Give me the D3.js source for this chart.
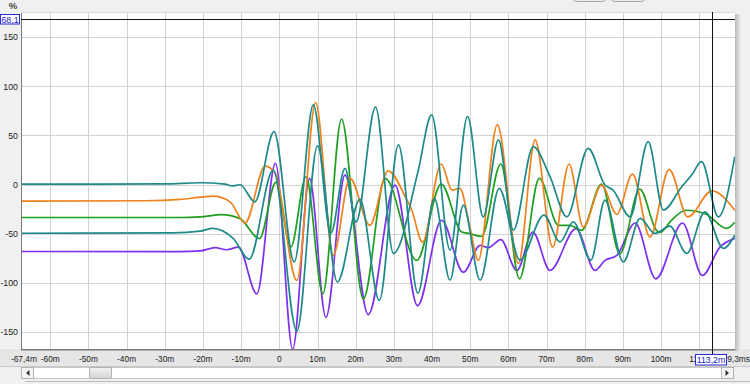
<!DOCTYPE html>
<html><head><meta charset="utf-8">
<script src="https://cdn.jsdelivr.net/npm/d3@7"></script>
<style>
body{margin:0;background:#f0f0f0;overflow:hidden;}
svg{display:block;font-family:"Liberation Sans",Arial,sans-serif;}
</style>
</head><body>
<svg id="chart" width="750" height="384"></svg>
<script>
// ---------- data ----------
const xTickValues = [-60,-50,-40,-30,-20,-10,0,10,20,30,40,50,60,70,80,90,100,110];
const xTickLabels = ["-60m","-50m","-40m","-30m","-20m","-10m","0","10m","20m","30m","40m","50m","60m","70m","80m","90m","100m","110m"];
const yTickValues = [150,100,50,0,-50,-100,-150];
const xStartLabel = "-67,4m";
const xEndLabel = "119,3ms";
const yUnit = "%";
const hCursorValue = 168.1, hCursorLabel = "68,1";
const vCursorValue = 113.2, vCursorLabel = "113,2m";

const tealATime = [-67.4,-30,-20.8,-14.2,-12.4,-10.3,-6.4,-1.4,3.9,8.9,13.5,17.2,20.1,25.2,29.9,36.3,39.9,44.7,49.3,53.4,57.4,61.3,66.5,70.9,75.3,80.9,85.3,87.4,91.9,96.6,100.6,105.4,108.0,110.6,115.0,119.3];
const tealAValue = [0.4,0.6,1.8,0.5,-1.5,-0.2,-17.6,53.9,-78.8,81.1,-49.5,16.5,-38.3,78.8,-70.2,12.8,70.9,-66.8,69.2,-32.9,45.4,-46.4,38.6,8.0,-32.9,36.9,-0.5,-5.6,-32.9,43.7,-26,-2.2,9.7,23.3,-32.9,28.4];

const tealBTime = [-67.4,-28,-20.8,-17.4,-12.1,-7.9,-1.6,4.6,10.0,15.2,21.1,26.2,31.2,36.3,40.6,44.7,48.2,52.6,57.6,63.0,69.3,73.5,77.0,81.6,85.3,90.1,94.5,98.4,102.3,106.7,111.5,116.3,119.3];
const tealBValue = [-49.6,-49.2,-47.5,-44.7,-54.9,-76,14.8,-149.2,39.3,-99.2,-15.1,-117.9,40.3,-110.7,-14.1,-97.4,-20.9,-97.4,-3.9,-77,-31.1,-58.4,-38,-77,-15.8,-78.8,-34.5,-49.8,-42.3,-70.2,-27.8,-65.1,-51.5];

const orangeTime = [-67.4,-35,-26,-20.8,-17.3,-12.9,-9.0,-3.7,-1.1,4.6,9.5,14.1,18.5,23.7,28.5,33.0,34.7,37.5,42.4,45.2,47.3,49.9,52.1,57.1,62.6,67.0,71.6,75.9,79.6,84.4,88.4,92.5,97.1,102.1,107.0,113.3,119.3];
const orangeValue = [-16.8,-16.5,-15.2,-12.9,-11.9,-17.7,-39.2,18.8,11.7,-97.7,83.5,-72.2,6.5,-41.5,14,-12.6,-26.2,-58.6,20.9,-5.7,-4,-43.3,-77.3,60.7,-80.4,45.4,-63.7,20.9,-43.3,-0.6,-30.3,10.6,-53.5,15.4,-33,-6.4,-26.2];

const greenTime = [-67.4,-26,-20.8,-15.1,-10.3,-5.2,-0.9,3.0,7.0,11.4,16.3,22.0,27.7,36.0,42.4,47.8,49.9,53.0,58.0,62.9,68.1,73.1,76.1,79.2,84.4,89.2,94.4,98.8,99.7,102.7,106.5,111.8,117.2,119.3];
const greenValue = [-33.6,-33.6,-33.0,-30.6,-34.7,-55.1,2.2,-63.7,7.9,-111.3,66.6,-116.5,6.2,-77.3,0.4,-48.4,-50,-52.8,20.9,-96,6.2,-41.5,-41.5,-46.6,0.4,-70.4,-4.7,-46.6,-48.7,-36.4,-26.2,-30.3,-44.6,-38.4];

const purpleTime = [-67.4,-26,-20.8,-16.8,-13.8,-10.7,-5.9,-1.0,3.5,7.9,12.2,17.2,23.3,30.3,36.2,42.5,48.2,52.6,54.7,58.0,62.2,66.4,70.9,77.7,82.7,85.3,88.4,93.2,98.6,105.6,110.8,115.4,119.3];
const purpleValue = [-68.2,-68.4,-67.6,-64.3,-66.4,-63.7,-111.3,21.6,-167.6,6.2,-135.3,9.6,-132.5,-0.6,-123.3,-36.4,-89.3,-62,-64.3,-56.1,-87.5,-48.4,-87.5,-44.9,-87.5,-77.3,-72.2,-39.2,-96,-39.2,-92.6,-63.7,-54.8];

const seriesNames = ["tealA","tealB","orange","green","purple"];
const seriesColors = ["#1f8a8a","#1f8a8a","#f0821e","#1f9e1f","#7f2ff0"];

// ---------- layout ----------
const svg = d3.select("#chart");
const L = 21, R = 735, T = 12, B = 349;
const x = d3.scaleLinear().domain([-67.4, 119.3]).range([22, 734.8]);
const y = d3.scaleLinear().domain([-167.8, 175.4]).range([349.3, 12.3]);

const defs = svg.append("defs");
defs.append("clipPath").attr("id","plotclip").append("rect")
  .attr("x",L).attr("y",T).attr("width",R-L).attr("height",B-T);
const sg = defs.append("linearGradient").attr("id","shadow").attr("x1",0).attr("x2",1);
sg.append("stop").attr("offset",0).attr("stop-color","#b8b8b8");
sg.append("stop").attr("offset",1).attr("stop-color","#f0f0f0");
const tg = defs.append("linearGradient").attr("id","thumb").attr("x1",0).attr("x2",0).attr("y1",0).attr("y2",1);
tg.append("stop").attr("offset",0).attr("stop-color","#f2f2f2");
tg.append("stop").attr("offset",1).attr("stop-color","#d4d4d4");

// top buttons (partial)
svg.append("rect").attr("x",573.5).attr("y",-6).attr("width",32).attr("height",7.5).attr("rx",3)
  .attr("fill","#ececec").attr("stroke","#a8a8a8");
svg.append("rect").attr("x",611.5).attr("y",-6).attr("width",33).attr("height",7.5).attr("rx",3)
  .attr("fill","#ececec").attr("stroke","#a8a8a8");

// x-axis band
svg.append("rect").attr("x",0).attr("y",B).attr("width",750).attr("height",17).attr("fill","#e6e6e6");
// shadow right of plot
svg.append("rect").attr("x",R).attr("y",T+2).attr("width",6).attr("height",B-T).attr("fill","url(#shadow)");

// plot background
svg.append("rect").attr("x",L).attr("y",T).attr("width",R-L).attr("height",B-T).attr("fill","#ffffff");

// gridlines
const grid = svg.append("g").attr("stroke","#d2d2d2").attr("stroke-width",1);
xTickValues.forEach(v => {
  const px = Math.round(x(v)) + 0.5;
  grid.append("line").attr("x1",px).attr("x2",px).attr("y1",T).attr("y2",B);
});
yTickValues.forEach(v => {
  const py = Math.round(y(v)) + 0.5;
  grid.append("line").attr("x1",L).attr("x2",R).attr("y1",py).attr("y2",py);
});

// plot border
svg.append("line").attr("x1",L+0.5).attr("x2",L+0.5).attr("y1",T).attr("y2",B+1).attr("stroke","#7a7a7a");
svg.append("line").attr("x1",L).attr("x2",R).attr("y1",B+0.5).attr("y2",B+0.5).attr("stroke","#7a7a7a");
svg.append("line").attr("x1",L).attr("x2",R).attr("y1",B+1.5).attr("y2",B+1.5).attr("stroke","#b0b0b0");
svg.append("line").attr("x1",L).attr("x2",R).attr("y1",T+0.5).attr("y2",T+0.5).attr("stroke","#dcdcdc");

// series
const seriesData = [
  [tealATime, tealAValue],[tealBTime, tealBValue],[orangeTime, orangeValue],
  [greenTime, greenValue],[purpleTime, purpleValue]
];
const line = d3.line().x(d => x(d[0])).y(d => y(d[1])).curve(d3.curveMonotoneX);
const lines = svg.append("g").attr("clip-path","url(#plotclip)");
const drawOrder = [4,3,2,1,0];
drawOrder.forEach(i => {
  const [t, v] = seriesData[i];
  const pts = t.map((tt, k) => [tt, v[k]]);
  lines.append("path").attr("d", line(pts)).attr("fill","none")
    .attr("stroke", seriesColors[i]).attr("stroke-width",1.7)
    .attr("stroke-linejoin","round").attr("class", seriesNames[i]);
});

// cursors
const hy = Math.round(y(hCursorValue)) + 0.5;
svg.append("line").attr("x1",L).attr("x2",R).attr("y1",hy).attr("y2",hy).attr("stroke","#111");
const vx = Math.round(x(vCursorValue)) + 0.5;
svg.append("line").attr("x1",vx).attr("x2",vx).attr("y1",T).attr("y2",B + 6).attr("stroke","#111");

// y labels
const yl = svg.append("g").attr("font-size",8.8).attr("fill","#222").attr("text-anchor","end");
yTickValues.forEach(v => {
  yl.append("text").attr("x",18).attr("y", y(v) + 3.2).text(v);
});
svg.append("text").attr("x",13).attr("y",9).attr("font-size",9.5).attr("font-weight","bold")
  .attr("fill","#444").attr("text-anchor","middle").text(yUnit);

// x labels
const xl = svg.append("g").attr("font-size",8.4).attr("fill","#222").attr("text-anchor","middle");
xTickValues.forEach((v,i) => {
  xl.append("text").attr("x", x(v)).attr("y", 362).text(xTickLabels[i]);
});
xl.append("text").attr("x", 37).attr("y", 362).attr("text-anchor","end").text(xStartLabel);
xl.append("text").attr("x", 750).attr("y", 362).attr("text-anchor","end").text(xEndLabel);

// cursor labels
svg.append("rect").attr("x",0.5).attr("y",14.5).attr("width",19).attr("height",9.5)
  .attr("fill","#fff").attr("stroke","#2b2bd8");
svg.append("text").attr("x",10).attr("y",22.5).attr("font-size",8.8).attr("fill","#2020c8")
  .attr("text-anchor","middle").text(hCursorLabel);
svg.append("rect").attr("x",695.5).attr("y",354.5).attr("width",31).attr("height",10.5)
  .attr("fill","#fff").attr("stroke","#2b2bd8");
svg.append("text").attr("x",711).attr("y",363).attr("font-size",8.8).attr("fill","#2020c8")
  .attr("text-anchor","middle").text(vCursorLabel);

// scrollbar
svg.append("line").attr("x1",0).attr("x2",750).attr("y1",366.5).attr("y2",366.5).attr("stroke","#c8c8c8");
svg.append("rect").attr("x",21.5).attr("y",367.5).attr("width",712).attr("height",11).attr("fill","#ffffff").attr("stroke","#c8c8c8");
svg.append("rect").attr("x",21.5).attr("y",367.5).attr("width",12).attr("height",11).attr("fill","#f4f4f4").attr("stroke","#b4b4b4");
svg.append("path").attr("d","M26,373 L29.5,370 L29.5,376 Z").attr("fill","#333");
svg.append("rect").attr("x",721.5).attr("y",367.5).attr("width",12).attr("height",11).attr("fill","#f4f4f4").attr("stroke","#b4b4b4");
svg.append("path").attr("d","M729,373 L725.5,370 L725.5,376 Z").attr("fill","#333");
svg.append("rect").attr("x",89.5).attr("y",367.5).attr("width",22).attr("height",11).attr("rx",1.5)
  .attr("fill","url(#thumb)").attr("stroke","#b0b0b0");
svg.append("line").attr("x1",25).attr("x2",750).attr("y1",381.5).attr("y2",381.5).attr("stroke","#bdbdbd");
</script>
</body></html>
